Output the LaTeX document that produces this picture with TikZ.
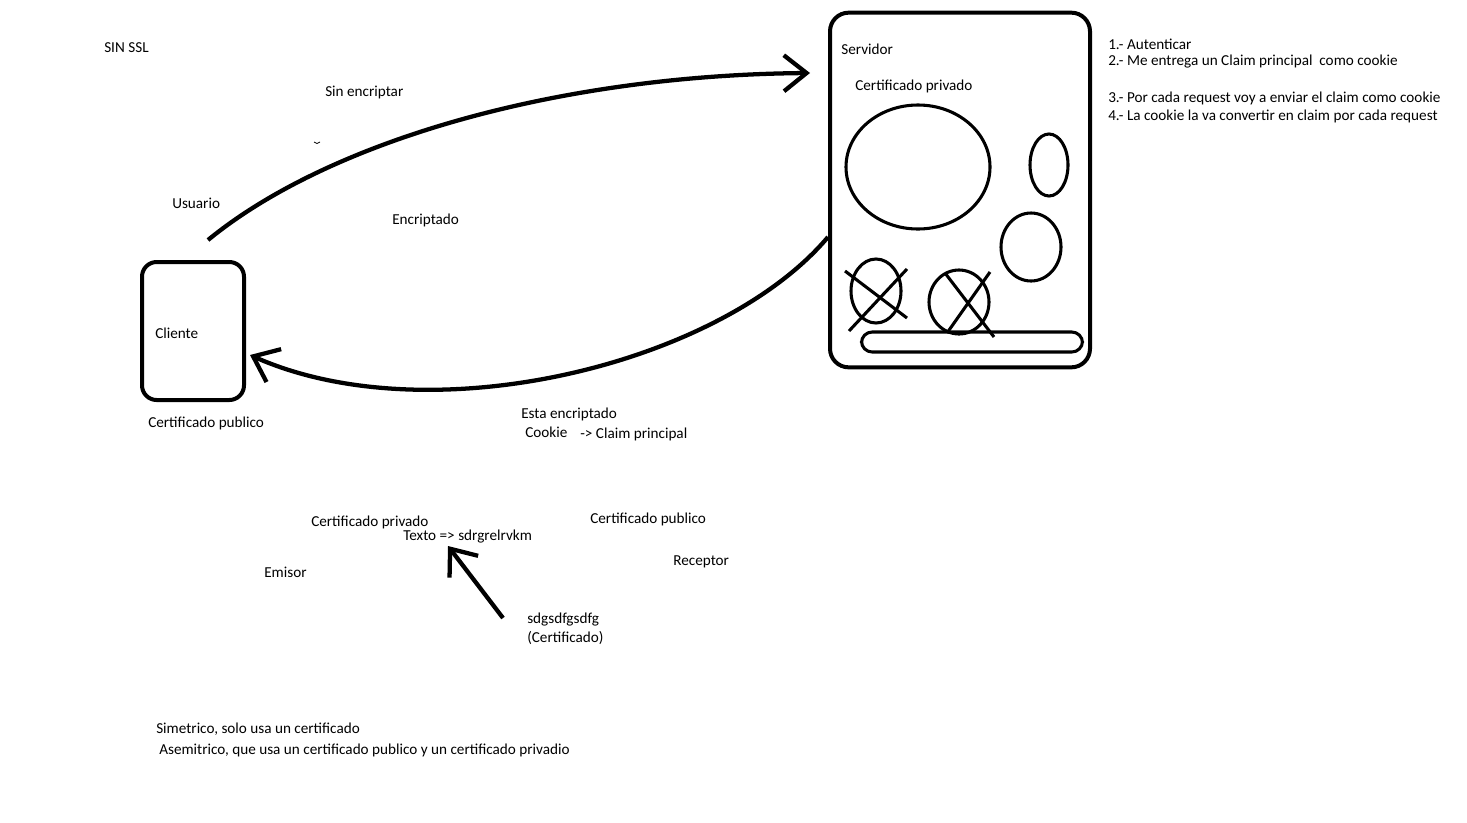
\documentclass[tikz,border=0pt]{standalone}
\usepackage{fontspec}
\setmainfont{Carlito}
\usetikzlibrary{arrows.meta, shapes.geometric}
\tikzset{
  pbox/.style={rectangle, draw, line width=3pt, rounded corners=11pt, inner sep=0pt},
  blob/.style={ellipse, draw, line width=2.3pt, inner sep=0pt},
  cross/.style={line width=2.3pt},
  arr/.style={line width=3.2pt, -{Straight Barb[length=17pt,width=27pt]}},
  txt/.style={anchor=west, inner sep=0pt, yshift=-1.5pt, font=\fontsize{11.4}{13}\selectfont},
}

\begin{document}
\begin{tikzpicture}[x=0.75pt, y=-0.75pt]
  \useasboundingbox (0,0) rectangle (1467,822);

  % ── Boxes ──────────────────────────────────────────────────────────────────
  \node[pbox, minimum width=76.5pt, minimum height=103.5pt] at (193,331) (cli) {};
  \node[pbox, rounded corners=14pt, minimum width=195pt, minimum height=266pt] at (960,190) (srv) {};

  % ── Certificates in the server ─────────────────────────────────────────────
  \node[blob, minimum width=108pt,  minimum height=93pt]   at (918,167)  (big)  {};
  \node[blob, minimum width=28.5pt, minimum height=46.5pt] at (1049,165) (tall) {};
  \node[blob, minimum width=45pt,   minimum height=51pt]   at (1031,247) (mid)  {};
  \node[blob, minimum width=37.5pt, minimum height=48pt]   at (876,291)  (rev1) {};
  \node[blob, minimum width=45pt,   minimum height=48pt]   at (959,302)  (rev2) {};
  \node[rectangle, draw, line width=2.3pt, rounded corners=8pt,
        minimum width=165.75pt, minimum height=15pt]       at (972,342)  (bar)  {};

  \draw[cross] ([shift={(-31,-20)}]rev1.center) -- ([shift={(31,27)}]rev1.center);
  \draw[cross] ([shift={(31,-22)}]rev1.center)  -- ([shift={(-27,40)}]rev1.center);
  \draw[cross] ([shift={(-14,-29)}]rev2.center) -- ([shift={(35,35)}]rev2.center);
  \draw[cross] ([shift={(31,-30)}]rev2.center)  -- ([shift={(-12,31)}]rev2.center);

  % ── Arrows ─────────────────────────────────────────────────────────────────
  \coordinate (c1) at (208,240);
  \coordinate (s1) at (810,73);
  \coordinate (s2) at (828,237);
  \coordinate (c2) at (250,355);
  \draw[arr] (c1) .. controls (330,140) and (560,75) .. (s1);
  \draw[arr] (s2) .. controls (720,365) and (430,435) .. (c2);
  \draw[line width=0.6pt] (314,142) to[bend right=60] (320,142);

  \coordinate (k1) at (503,618);
  \coordinate (k2) at (448,546);
  \draw[arr] (k1) -- (k2);

  % ── Texts ──────────────────────────────────────────────────────────────────
  \node[txt] at (104,46)  (ssl)  {SIN SSL};
  \node[txt] at (325,90)  (sine) {Sin encriptar};
  \node[txt] at (172,201) (usr)  {Usuario};
  \node[txt] at (392,218) (enc)  {Encriptado};
  \node[txt] at (155,331) (clit) {Cliente};
  \node[txt] at (148,421) (cpub) {Certificado publico};
  \node[txt] at (841,47)  (srvt) {Servidor};
  \node[txt] at (855,84)  (cpri) {Certificado privado};

  \node[txt] at (1108,42)  (st1) {1.- Autenticar};
  \node[txt] at (1108,60)  (st2) {2.- Me entrega un Claim principal\ \ como cookie};
  \node[txt] at (1108,96)  (st3) {3.- Por cada request voy a enviar el claim como cookie};
  \node[txt] at (1108,114) (st4) {4.- La cookie la va convertir en claim por cada request};

  \node[txt] at (521,412) (esta) {Esta encriptado};
  \node[txt] at (525,430) (cook) {Cookie};
  \node[txt] at (580,432) (clm)  {-> Claim principal};

  \node[txt] at (311,520) (epri) {Certificado privado};
  \node[txt] at (403,535) (txto) {Texto => sdrgrelrvkm};
  \node[txt] at (590,517) (rpub) {Certificado publico};
  \node[txt] at (264,570) (emi)  {Emisor};
  \node[txt] at (673,560) (rec)  {Receptor};
  \node[txt] at (527,618) (key)  {sdgsdfgsdfg};
  \node[txt] at (527,636) (keyc) {(Certificado)};

  \node[txt] at (156,727) (sim)  {Simetrico, solo usa un certificado};
  \node[txt] at (159,748) (asim) {Asemitrico, que usa un certificado publico y un certificado privadio};
\end{tikzpicture}
\end{document}
